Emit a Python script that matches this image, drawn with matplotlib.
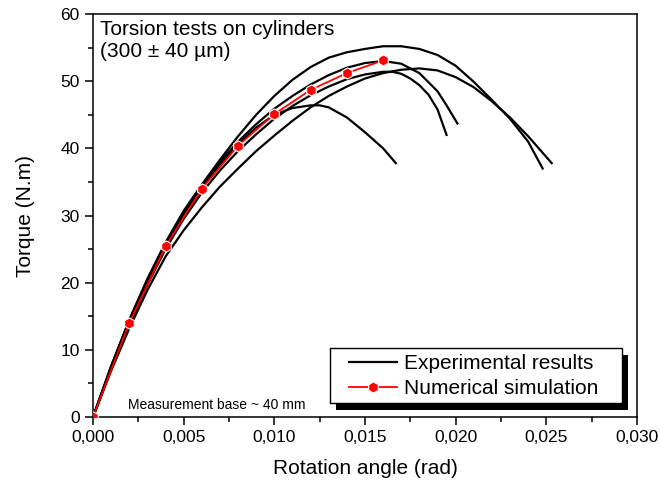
import matplotlib
matplotlib.use('Agg')
import matplotlib.pyplot as plt
from matplotlib.ticker import MultipleLocator, FuncFormatter
from matplotlib.patches import Rectangle

plt.rcParams['font.family'] = ['Liberation Sans', 'DejaVu Sans']

# experimental curves (rotation angle in rad, torque in N.m)
exp1_x = [0, 0.001, 0.002, 0.003, 0.004, 0.005, 0.006, 0.007, 0.008, 0.009, 0.010, 0.011, 0.012,
          0.0125, 0.013, 0.014, 0.015, 0.016, 0.0167]
exp1_y = [0, 7.5, 14.2, 20.3, 25.6, 30.2, 34.2, 37.6, 40.6, 43.1, 45.0, 46.0, 46.4,
          46.4, 46.1, 44.6, 42.4, 40.0, 37.8]

exp2_x = [0, 0.001, 0.002, 0.003, 0.004, 0.005, 0.006, 0.007, 0.008, 0.009, 0.010, 0.011, 0.012,
          0.013, 0.014, 0.015, 0.016, 0.017, 0.018, 0.019, 0.020, 0.021, 0.022, 0.023, 0.024, 0.0248]
exp2_y = [0, 7.6, 14.5, 20.6, 26.0, 30.7, 34.6, 38.3, 41.8, 45.0, 47.8, 50.2, 52.1,
          53.5, 54.3, 54.8, 55.2, 55.2, 54.8, 53.9, 52.3, 49.9, 47.2, 44.4, 41.0, 37.0]

exp3_x = [0, 0.001, 0.002, 0.003, 0.004, 0.005, 0.006, 0.007, 0.008, 0.009, 0.010, 0.011, 0.012,
          0.013, 0.014, 0.015, 0.016, 0.017, 0.018, 0.019, 0.0195, 0.0201]
exp3_y = [0, 7.5, 14.4, 20.4, 25.8, 30.5, 34.5, 38.0, 41.0, 43.6, 45.9, 47.8, 49.5,
          50.9, 52.0, 52.7, 53.0, 52.6, 51.2, 48.5, 46.4, 43.7]

exp4_x = [0, 0.001, 0.002, 0.003, 0.004, 0.005, 0.006, 0.007, 0.008, 0.009, 0.010, 0.011, 0.012,
          0.013, 0.014, 0.015, 0.016, 0.0165, 0.017, 0.0175, 0.018, 0.0185, 0.019, 0.0195]
exp4_y = [0, 7.2, 13.8, 19.7, 25.0, 29.5, 33.4, 36.7, 39.6, 42.1, 44.4, 46.3, 47.9,
          49.2, 50.3, 51.0, 51.4, 51.4, 51.1, 50.4, 49.4, 48.0, 45.8, 42.0]

exp5_x = [0, 0.001, 0.002, 0.003, 0.004, 0.005, 0.006, 0.007, 0.008, 0.009, 0.010, 0.011, 0.012,
          0.013, 0.014, 0.015, 0.016, 0.017, 0.018, 0.019, 0.020, 0.021, 0.022, 0.023, 0.024, 0.0253]
exp5_y = [0, 6.9, 13.2, 18.9, 23.9, 27.8, 31.2, 34.3, 37.0, 39.6, 41.9, 44.1, 46.1,
          47.8, 49.2, 50.4, 51.2, 51.7, 51.9, 51.6, 50.6, 49.1, 47.0, 44.6, 41.8, 37.8]

# numerical simulation
sim_x = [0, 0.002, 0.004, 0.006, 0.008, 0.010, 0.012, 0.014, 0.016]
sim_y = [0, 14.0, 25.4, 34.0, 40.4, 45.1, 48.7, 51.2, 53.1]

fig = plt.figure(figsize=(6.6, 4.88), dpi=100)
ax = fig.add_axes([0.141, 0.1455, 0.824, 0.8258])

curves = [(exp1_x, exp1_y), (exp2_x, exp2_y), (exp3_x, exp3_y), (exp4_x, exp4_y), (exp5_x, exp5_y)]
for i, (cx, cy) in enumerate(curves):
    ax.plot(cx, cy, color='k', lw=1.6, solid_joinstyle='round',
            label='Experimental results' if i == 0 else None, zorder=2)

ax.plot(sim_x, sim_y, color='red', lw=1.3, marker='h', ms=8, mfc='red', mec='white', mew=0.8,
        label='Numerical simulation', zorder=3)

ax.set_xlim(0, 0.030)
ax.set_ylim(0, 60)
ax.xaxis.set_major_locator(MultipleLocator(0.005))
ax.xaxis.set_minor_locator(MultipleLocator(0.0025))
ax.yaxis.set_major_locator(MultipleLocator(10))
ax.yaxis.set_minor_locator(MultipleLocator(5))
ax.xaxis.set_major_formatter(FuncFormatter(lambda v, p: f"{v:.3f}".replace('.', ',')))
ax.tick_params(which='major', direction='out', length=6, width=1.1, labelsize=12.5, top=False, right=False)
ax.tick_params(which='minor', direction='out', length=3.5, width=1.1, top=False, right=False)
for s in ax.spines.values():
    s.set_linewidth(1.1)

ax.set_xlabel('Rotation angle (rad)', fontsize=15, labelpad=10)
ax.set_ylabel('Torque (N.m)', fontsize=15, labelpad=18)

ax.text(0.013, 0.985, 'Torsion tests on cylinders\n(300 ± 40 µm)', transform=ax.transAxes,
        fontsize=15, va='top', ha='left')
ax.text(0.064, 0.03, 'Measurement base ~ 40 mm', transform=ax.transAxes, fontsize=10,
        va='center', ha='left')

# legend without frame, box + black shadow drawn around it
leg = ax.legend(loc='lower right', bbox_to_anchor=(0.930, 0.047), fontsize=15, frameon=False,
                handlelength=2.3, handletextpad=0.35, borderpad=0, labelspacing=0.3,
                numpoints=1, borderaxespad=0)
leg.set_zorder(7)

fig.canvas.draw()
bb = leg.get_window_extent().transformed(ax.transAxes.inverted())
px, py = 1 / 544, 1 / 403
bx0, bx1 = bb.x0 - 19 * px, bb.x1 + 23 * px
by0, by1 = bb.y0 - 5 * py, bb.y1 + 6 * py
ax.add_patch(Rectangle((bx0 + 6 * px, by0 - 7 * py), bx1 - bx0, by1 - by0, transform=ax.transAxes,
                       facecolor='k', edgecolor='none', zorder=5, clip_on=False))
ax.add_patch(Rectangle((bx0, by0), bx1 - bx0, by1 - by0, transform=ax.transAxes,
                       facecolor='white', edgecolor='k', lw=1.0, zorder=6, clip_on=False))

fig.savefig('out.png', dpi=100)
